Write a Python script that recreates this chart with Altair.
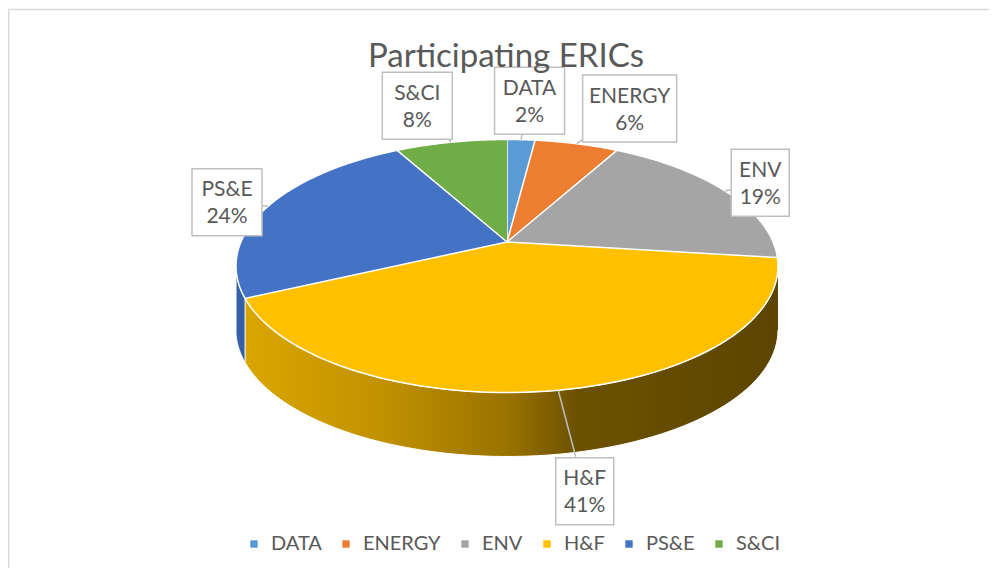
import math
import altair as alt
import pandas as pd

# ---- data ----
categories = ["DATA", "ENERGY", "ENV", "H&F", "PS&E", "S&CI"]
percent = [2, 6, 19, 41, 24, 8]
colors = ["#5B9BD5", "#ED7D31", "#A5A5A5", "#FFC000", "#4472C4", "#70AD47"]
side_colors = ["#3F7CB8", "#C0601C", "#7F7F7F", "#B38600", "#3560A8", "#558A35"]
title_text = "Participating ERICs"

starts = [sum(percent[:i]) for i in range(len(percent))]
slices = pd.DataFrame({"cat": categories, "pct": percent, "start": starts,
                       "side": side_colors})

# ---- geometry / style constants ----
W, H = 981, 560
CX, CY, A, B = 499.0, 258.0, 271.0, 126.5
G = -0.0959          # perspective shift of the pie centre
D = 64.0             # thickness of the pie
N = 72
LO = math.acos(2 * G / (1 + G * G))
HI = 2 * math.pi - LO
FONT = "Lato"
TXT = "#595959"

GS = f"({G})"


def rim_x(th):
    return (f"({CX} + {A}*sin({th})*(1-{GS}*{GS})/"
            f"(1 + 2*{GS}*(-cos({th})) + {GS}*{GS}))")


def rim_y(th):
    return (f"({CY} + {B}*((-cos({th}))*(1+{GS}*{GS}) + 2*{GS})/"
            f"(1 + 2*{GS}*(-cos({th})) + {GS}*{GS}))")


xs = alt.Scale(domain=[0, W], range=[0, W])
ys = alt.Scale(domain=[0, H], range=[0, H])
X = lambda f: alt.X(f, type="quantitative", scale=xs, axis=None)
Y = lambda f: alt.Y(f, type="quantitative", scale=ys, axis=None)

# top face polygons
top_df = slices.merge(pd.DataFrame({"k": list(range(-1, N + 1))}), how="cross")
top = alt.Chart(top_df).transform_calculate(
    th=f"2*PI*(datum.start + datum.pct*datum.k/{N})/100"
).transform_calculate(
    px=f"datum.k < 0 ? {CX} : {rim_x('datum.th')}",
    py=f"datum.k < 0 ? {CY} + {B}*2*{GS}/(1+{GS}*{GS}) : {rim_y('datum.th')}",
).mark_line(stroke="white", strokeWidth=1.5, strokeJoin="round").encode(
    x=X("px"), y=Y("py"),
    order=alt.Order("k:Q"),
    fill=alt.Fill("cat:N", sort=categories,
                  scale=alt.Scale(domain=categories, range=colors),
                  legend=alt.Legend(orient="none", legendX=236, legendY=526,
                                    direction="horizontal", title=None,
                                    symbolType="square", symbolSize=55,
                                    symbolStrokeWidth=0, labelFont=FONT,
                                    labelFontSize=20, labelColor=TXT,
                                    columnPadding=14, labelOffset=7,
                                    padding=0)),
)

# side walls
side_df = slices.merge(pd.DataFrame({"k": list(range(0, 2 * N + 2))}), how="cross")
side_base = alt.Chart(side_df).transform_calculate(
    s=f"max(2*PI*datum.start/100, {LO})",
    e=f"min(2*PI*(datum.start+datum.pct)/100, {HI})",
).transform_filter("datum.s < datum.e").transform_calculate(
    j=f"datum.k <= {N} ? datum.k : {2 * N + 1} - datum.k"
).transform_calculate(
    th=f"datum.s + (datum.e - datum.s)*datum.j/{N}"
).transform_calculate(
    px=rim_x("datum.th"),
    py=f"{rim_y('datum.th')} + (datum.k > {N} ? {D} : 0)",
)
side_other = side_base.transform_filter("datum.cat != 'H&F'").mark_line(
    stroke="white", strokeWidth=1).encode(
    x=X("px"), y=Y("py"), order=alt.Order("k:Q"), detail="cat:N",
    fill=alt.Fill("side:N", scale=None),
)
side_hf = side_base.transform_filter("datum.cat == 'H&F'").mark_line(
    stroke="white", strokeWidth=1,
    fill=alt.Gradient(gradient="linear", x1=0, x2=1, y1=0, y2=0,
                      stops=[alt.GradientStop(offset=0, color="#DAA600"),
                             alt.GradientStop(offset=0.25, color="#C29200"),
                             alt.GradientStop(offset=0.5, color="#987200"),
                             alt.GradientStop(offset=0.62, color="#6C5100"),
                             alt.GradientStop(offset=1, color="#5C4500")]),
).encode(x=X("px"), y=Y("py"), order=alt.Order("k:Q"))

# labels
lab = alt.Chart(slices).transform_calculate(
    mid="2*PI*(datum.start + datum.pct/2)/100"
).transform_calculate(
    den=f"1 + 2*{GS}*(-cos(datum.mid)) + {GS}*{GS}"
).transform_calculate(
    fx=f"sin(datum.mid)*(1-{GS}*{GS})/datum.den",
    fy=f"((-cos(datum.mid))*(1+{GS}*{GS}) + 2*{GS})/datum.den",
).transform_calculate(
    px=f"{CX} + {A}*datum.fx",
    py=f"{CY} + {B}*datum.fy",
    hw="(12*length(datum.cat) + 22)/2",
).transform_calculate(
    bx="datum.px + (datum.hw + 6)*clamp(4*datum.fx, -1, 1)",
    by=f"datum.py + 39*pow(datum.fy, 3) + (datum.fy > 0 ? {D} : 0)",
).transform_calculate(
    x1="datum.bx - datum.hw", x2="datum.bx + datum.hw",
    y1="datum.by - 33.5", y2="datum.by + 33.5",
    label="datum.cat + '\\n' + datum.pct + '%'",
)
leader = lab.mark_rule(stroke="#BFBFBF", strokeWidth=1.5).encode(
    x=X("px"), y=Y("py"), x2="bx:Q", y2="by:Q")
box = lab.mark_rect(fill="white", stroke="#BFBFBF", strokeWidth=1.5).encode(
    x=X("x1"), x2="x2:Q", y=Y("y1"), y2="y2:Q")
text = lab.mark_text(font=FONT, fontSize=21, color=TXT, lineBreak="\n",
                     lineHeight=27, align="center", baseline="middle",
                     dy=-12).encode(
    x=X("bx"), y=Y("by"), text="label:N")

one = pd.DataFrame({"t": [title_text]})
title = alt.Chart(one).mark_text(font=FONT, fontSize=33, color=TXT,
                                 align="center", baseline="middle").encode(
    x=alt.value(498), y=alt.value(49), text="t:N")
border_top = alt.Chart(one).mark_rule(stroke="#D9D9D9", strokeWidth=1.5).encode(
    x=alt.value(0), x2=alt.value(W), y=alt.value(1.5))
border_left = alt.Chart(one).mark_rule(stroke="#D9D9D9", strokeWidth=1.5).encode(
    x=alt.value(0.75), y=alt.value(1.5), y2=alt.value(H))

chart = alt.layer(side_other, side_hf, top, leader, box, text, title,
                  border_top, border_left).properties(
    width=W, height=H, autosize=alt.AutoSizeParams(type="none"), padding=0
).configure_view(stroke=None)

chart.save("out.html", embed_options={"renderer": "svg", "actions": False})
